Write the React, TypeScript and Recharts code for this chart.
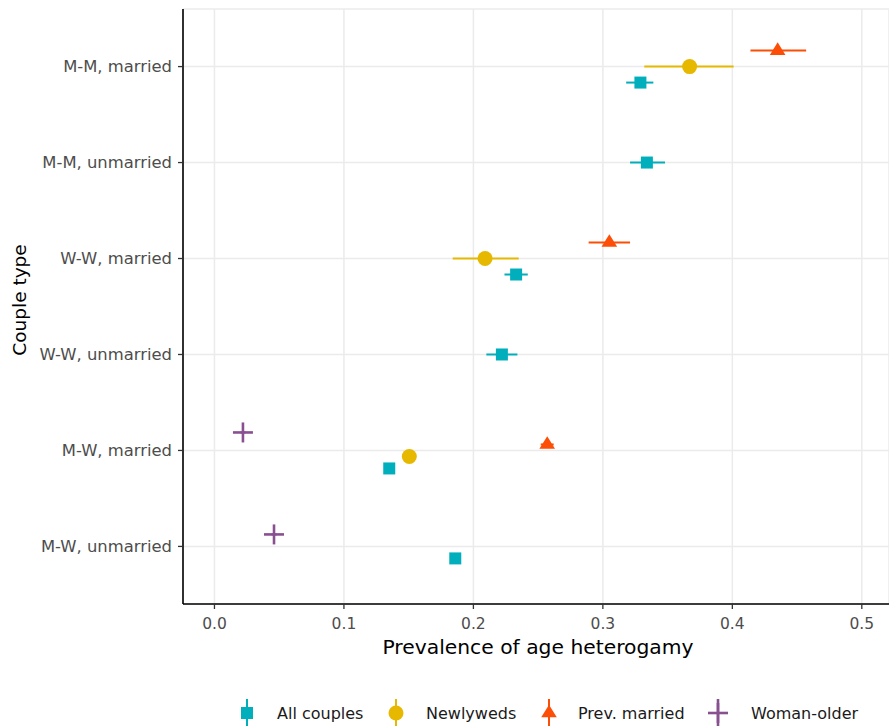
import React from 'react';
import { ScatterChart, Scatter, XAxis, YAxis, CartesianGrid, ErrorBar } from 'recharts';

const categories = ['M-M, married', 'M-M, unmarried', 'W-W, married', 'W-W, unmarried', 'M-W, married', 'M-W, unmarried'];
const seriesNames = ['All couples', 'Newlyweds', 'Prev. married', 'Woman-older'];
const seriesColors = ['#00AFBB', '#E7B800', '#FC4E07', '#88508F'];

const allCouplesEst = [0.329, 0.334, 0.233, 0.222, 0.135, 0.186];
const allCouplesLow = [0.318, 0.321, 0.224, 0.210, 0.132, 0.183];
const allCouplesHigh = [0.339, 0.348, 0.242, 0.234, 0.138, 0.189];

const newlywedsEst = [0.367, null, 0.209, null, 0.1505, null];
const newlywedsLow = [0.332, null, 0.184, null, 0.146, null];
const newlywedsHigh = [0.401, null, 0.235, null, 0.155, null];

const prevMarriedEst = [0.435, null, 0.305, null, 0.257, null];
const prevMarriedLow = [0.414, null, 0.289, null, 0.252, null];
const prevMarriedHigh = [0.457, null, 0.321, null, 0.262, null];

const womanOlderEst = [null, null, null, null, 0.022, 0.046];
const womanOlderLow = [null, null, null, null, 0.020, 0.044];
const womanOlderHigh = [null, null, null, null, 0.024, 0.048];

const xTicks = [0, 0.1, 0.2, 0.3, 0.4, 0.5];
const yTicks = [1, 2, 3, 4, 5, 6];

const estimates = [allCouplesEst, newlywedsEst, prevMarriedEst, womanOlderEst];
const lows = [allCouplesLow, newlywedsLow, prevMarriedLow, womanOlderLow];
const highs = [allCouplesHigh, newlywedsHigh, prevMarriedHigh, womanOlderHigh];

const DODGE_WIDTH = 0.5;

function buildSeries(s: number) {
  const out: any[] = [];
  categories.forEach((cat, c) => {
    const v = estimates[s][c];
    if (v == null) return;
    const present = estimates.map((e, i) => (e[c] != null ? i : -1)).filter((i) => i >= 0);
    const n = present.length;
    const k = present.indexOf(s);
    const y = c + 1 + ((n - 1) / 2 - k) * (DODGE_WIDTH / n);
    const lo = lows[s][c] as number;
    const hi = highs[s][c] as number;
    out.push({ x: v, y, cat, err: [v - lo, hi - v] });
  });
  return out;
}

const seriesData = seriesNames.map((_, i) => buildSeries(i));

function Marker({ kind, cx, cy, color }: { kind: number; cx: number; cy: number; color: string }) {
  if (kind === 0) return <rect x={cx - 6} y={cy - 6} width={12} height={12} fill={color} />;
  if (kind === 1) return <circle cx={cx} cy={cy} r={7.5} fill={color} />;
  if (kind === 2)
    return (
      <polygon
        points={`${cx},${cy - 8.3} ${cx - 7.8},${cy + 4.3} ${cx + 7.8},${cy + 4.3}`}
        fill={color}
      />
    );
  return (
    <g stroke={color} strokeWidth={2.6}>
      <line x1={cx - 10} y1={cy} x2={cx + 10} y2={cy} />
      <line x1={cx} y1={cy - 10} x2={cx} y2={cy + 10} />
    </g>
  );
}

const FONT = 'DejaVu Sans';

export default function App() {
  return (
    <div style={{ position: 'absolute', left: 0, top: 0, width: 889, height: 726, background: '#fff', overflow: 'hidden' }}>
      <ScatterChart width={889} height={726} margin={{ top: 9, right: 0, bottom: 62, left: 0 }}>
        <CartesianGrid stroke="#EBEBEB" strokeWidth={1.5} />
        <XAxis
          type="number"
          dataKey="x"
          domain={[-0.0243, 0.521]}
          ticks={xTicks}
          interval={0}
          allowDataOverflow
          tickFormatter={(v: number) => v.toFixed(1)}
          axisLine={{ stroke: '#000', strokeWidth: 1.6 }}
          tickLine={{ stroke: '#333', strokeWidth: 1.3 }}
          tickSize={5}
          tickMargin={9}
          tick={{ fill: '#4D4D4D', fontSize: 15.5, fontFamily: FONT }}
          height={60}
        />
        <YAxis
          type="number"
          dataKey="y"
          domain={[0.4, 6.6]}
          ticks={yTicks}
          interval={0}
          reversed
          allowDataOverflow
          tickFormatter={(v: number) => categories[v - 1]}
          axisLine={{ stroke: '#000', strokeWidth: 1.6 }}
          tickLine={{ stroke: '#333', strokeWidth: 1.3 }}
          tickSize={5}
          tickMargin={6}
          tick={{ fill: '#4D4D4D', fontSize: 16.4, fontFamily: FONT }}
          width={183}
        />
        {seriesNames.map((name, i) => (
          <Scatter
            key={name}
            name={name}
            data={seriesData[i]}
            isAnimationActive={false}
            shape={(p: any) => <Marker kind={i} cx={p.cx} cy={p.cy} color={seriesColors[i]} />}
          >
            <ErrorBar dataKey="err" direction="x" width={0} stroke={seriesColors[i]} strokeWidth={2} />
          </Scatter>
        ))}
      </ScatterChart>
      <svg width={889} height={726} style={{ position: 'absolute', left: 0, top: 0, pointerEvents: 'none' }}>
        <text x={538} y={654} textAnchor="middle" fontSize={20.3} fontFamily={FONT} fill="#000">
          Prevalence of age heterogamy
        </text>
        <text
          x={26}
          y={300}
          textAnchor="middle"
          fontSize={18.5}
          fontFamily={FONT}
          fill="#000"
          transform="rotate(-90 26 300)"
        >
          Couple type
        </text>
        {seriesNames.map((name, i) => {
          const keyX = [247, 396, 549, 718][i];
          const textX = [277, 426, 578, 751][i];
          return (
            <g key={name}>
              {i < 3 && <line x1={keyX} y1={699} x2={keyX} y2={728} stroke={seriesColors[i]} strokeWidth={2} />}
              {i === 3 && <line x1={keyX} y1={699} x2={keyX} y2={728} stroke={seriesColors[i]} strokeWidth={2.6} />}
              <Marker kind={i} cx={keyX} cy={713} color={seriesColors[i]} />
              <text x={textX} y={719} fontSize={16} fontFamily={FONT} fill="#1A1A1A">
                {name}
              </text>
            </g>
          );
        })}
      </svg>
    </div>
  );
}
